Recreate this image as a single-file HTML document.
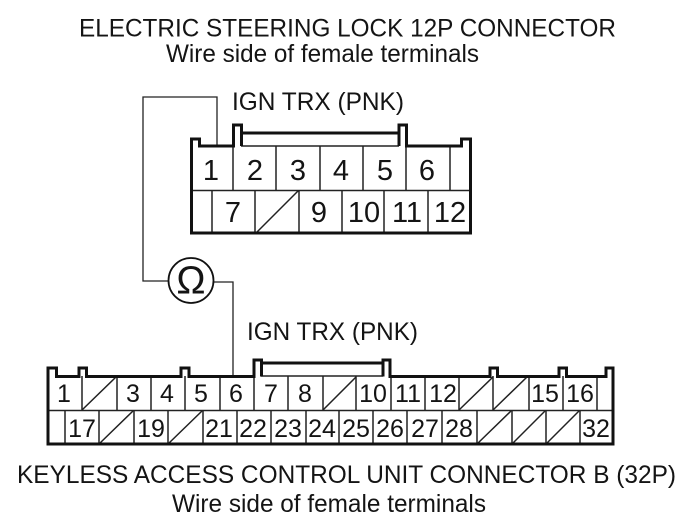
<!DOCTYPE html>
<html><head><meta charset="utf-8">
<style>
html,body{margin:0;padding:0;background:#fff;width:686px;height:526px;overflow:hidden}
svg{display:block}
text{font-family:"Liberation Sans",Arial,sans-serif;fill:#141414}
.t{font-size:25px}
.d{font-size:29px;text-anchor:middle}
.s{font-size:25px;text-anchor:middle}
.o{fill:none;stroke:#111;stroke-width:3}
.i{fill:none;stroke:#222;stroke-width:1.5}
.w{fill:none;stroke:#222;stroke-width:1.3}
</style></head><body>
<svg width="686" height="526" viewBox="0 0 686 526" xmlns="http://www.w3.org/2000/svg">
<rect width="686" height="526" fill="#fff"/>
<text class="t" x="79" y="36.500" textLength="537" lengthAdjust="spacingAndGlyphs">ELECTRIC STEERING LOCK 12P CONNECTOR</text>
<text class="t" x="166" y="62" textLength="313" lengthAdjust="spacingAndGlyphs">Wire side of female terminals</text>
<text class="t" x="232" y="110" textLength="172" lengthAdjust="spacingAndGlyphs">IGN TRX (PNK)</text>
<text class="t" x="247" y="340" textLength="171" lengthAdjust="spacingAndGlyphs">IGN TRX (PNK)</text>
<text class="t" x="17" y="483" textLength="659" lengthAdjust="spacingAndGlyphs">KEYLESS ACCESS CONTROL UNIT CONNECTOR B (32P)</text>
<text class="t" x="172" y="512" textLength="314" lengthAdjust="spacingAndGlyphs">Wire side of female terminals</text>

<!-- wires -->
<path class="w" d="M217 147V97H143V281H168"/>
<path class="w" d="M213 282H233V376"/>
<circle cx="191" cy="280.500" r="22.500" fill="#fff" stroke="#111" stroke-width="1.800"/>
<text x="191" y="293.500" font-size="39" text-anchor="middle">Ω</text>

<!-- top connector -->
<path class="i" d="M233 146V190M276 146V190M320 146V190M363 146V190M406 146V190M450 146V190M190 190.500H471M212 191V233M255 191V233M299 191V233M342 191V233M384 191V233M428 191V233M256 233L298 191M241 146H399"/>
<path class="o" d="M191.500 233V139H199.500V146H233.500V125H241.500V146M399 146V125H406.500V146H461.500V139H470.500V233H190"/>
<path class="o" d="M241.500 133H399"/>
<text class="d" x="211" y="180">1</text><text class="d" x="255" y="180">2</text><text class="d" x="298" y="180">3</text><text class="d" x="341" y="180">4</text><text class="d" x="385" y="180">5</text><text class="d" x="427" y="180">6</text>
<text class="d" x="233" y="222">7</text><text class="d" x="319" y="222">9</text><text class="d" x="364" y="222">10</text><text class="d" x="407" y="222">11</text><text class="d" x="450" y="222">12</text>

<!-- bottom connector -->
<path class="i" d="M82 376V410M117 376V410M151 376V410M185 376V410M220 376V410M254 376V410M288 376V410M323 376V410M356 376V410M391 376V410M425 376V410M459 376V410M493 376V410M529 376V410M563 376V410M597 376V410M47 410.500H614M65 411V444M99 411V444M134 411V444M168 411V444M203 411V444M237 411V444M271 411V444M306 411V444M339 411V444M373 411V444M407 411V444M442 411V444M477 411V444M512 411V444M546 411V444M580 411V444M261 376H383"/>
<path class="i" d="M82 410L116 377M323 410L356 377M459 410L493 377M493 410L527 377M99 444L133 411M168 444L202 411M477 444L511 411M512 444L545 411M546 444L579 411"/>
<path class="o" d="M48 444V368H56.500V376.500H79V368H86.500V376.500H181V368H189V376.500H254V360H261.500V376.500M383 376.500V360H390V376.500H490V368H497.500V376.500H559V368H566.500V376.500H606V368H613V444H46.500"/>
<path class="o" d="M261.500 363H383"/>
<text class="s" x="64" y="402">1</text><text class="s" x="133" y="402">3</text><text class="s" x="167" y="402">4</text><text class="s" x="201" y="402">5</text><text class="s" x="236" y="402">6</text><text class="s" x="271" y="402">7</text><text class="s" x="305" y="402">8</text><text class="s" x="373" y="402">10</text><text class="s" x="408" y="402">11</text><text class="s" x="443" y="402">12</text><text class="s" x="545" y="402">15</text><text class="s" x="580" y="402">16</text>
<text class="s" x="82" y="437">17</text><text class="s" x="151" y="437">19</text><text class="s" x="219" y="437">21</text><text class="s" x="253" y="437">22</text><text class="s" x="288" y="437">23</text><text class="s" x="322" y="437">24</text><text class="s" x="356" y="437">25</text><text class="s" x="390" y="437">26</text><text class="s" x="425" y="437">27</text><text class="s" x="459" y="437">28</text><text class="s" x="596" y="437">32</text>
</svg>
</body></html>
